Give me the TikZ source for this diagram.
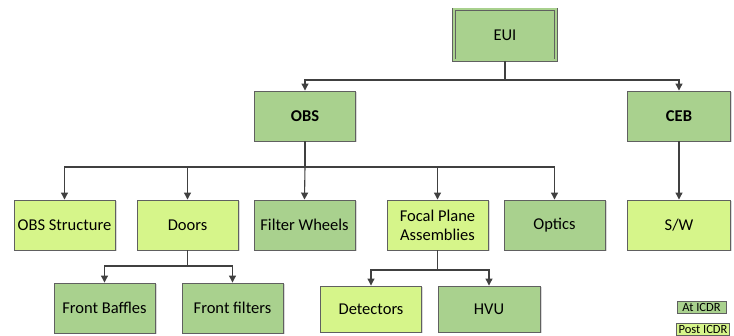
\documentclass[tikz,border=0pt]{standalone}
\usepackage{fontspec}
\setmainfont{Carlito}
\usetikzlibrary{arrows.meta,positioning,shadows}
\definecolor{dkg}{RGB}{169,209,142}
\definecolor{ltg}{RGB}{214,245,138}
\definecolor{bord}{RGB}{96,96,96}
\definecolor{conn}{RGB}{64,64,64}
\tikzset{
  box/.style={draw=bord, line width=0.9pt, minimum width=101pt, minimum height=50pt,
    inner sep=2pt, align=center, font=\fontsize{16.5}{19}\selectfont,
    drop shadow={shadow xshift=1.5pt, shadow yshift=-1.5pt, fill=black!25, opacity=0.6}},
  dark/.style={box, fill=dkg},
  light/.style={box, fill=ltg},
  legend/.style={draw=bord, line width=0.7pt, minimum width=49pt, minimum height=12pt,
    inner sep=0pt, font=\fontsize{12.5}{13}\selectfont},
  conn/.style={draw=conn, line width=1.1pt, -{Triangle[length=7pt,width=7pt]}},
  plain/.style={draw=conn, line width=1.1pt}
}
\begin{document}
\begin{tikzpicture}[x=1pt,y=-1pt]
\useasboundingbox (0,0) rectangle (734,336);
% top
\node[dark, minimum width=102pt, minimum height=51pt, double=dkg, double distance=2pt] (eui) at (505,35) {EUI};
\node[dark, font=\fontsize{16.5}{19}\selectfont\bfseries] (obs) at (305,116) {OBS};
\node[dark, font=\fontsize{16.5}{19}\selectfont\bfseries, minimum width=103pt] (ceb) at (679,116) {CEB};
% second level
\node[light] (str) at (64.5,225) {OBS Structure};
\node[light] (doors) at (187.5,225) {Doors};
\node[dark] (fw) at (304.5,225) {Filter Wheels};
\node[light] (fpa) at (437.5,225) {Focal Plane\\Assemblies};
\node[dark] (opt) at (554.5,225) {Optics};
\node[light, minimum width=103pt] (sw) at (679,225) {S/W};
% third level
\node[dark] (fb) at (104.5,308) {Front Baffles};
\node[dark] (ff) at (232.5,308) {Front filters};
\node[light, minimum height=46pt] (det) at (371,309) {Detectors};
\node[dark, minimum width=102pt, minimum height=46pt] (hvu) at (489,309) {HVU};
% legend
\node[legend, fill=dkg] (l1) at (701.5,307.5) {At ICDR};
\node[legend, fill=ltg, minimum width=53pt] (l2) at (703,329) {Post ICDR};
% connectors
\coordinate (b1) at (505,80);
\draw[plain] (eui.south) -- (b1);
\draw[conn] (b1) -| (obs.north);
\draw[conn] (b1) -| (ceb.north);
\coordinate (b2) at (305,167);
\draw[plain] (obs.south) -- (b2);
\draw[conn] (b2) -| (str.north);
\draw[conn] (b2) -| (doors.north);
\draw[conn] (b2) -- (fw.north);
\draw[conn] (b2) -| (fpa.north);
\draw[conn] (b2) -| (opt.north);
\draw[conn] (ceb.south) -- (sw.north);
\coordinate (b3) at (187.5,266);
\draw[plain] (doors.south) -- (b3);
\draw[conn] (b3) -| (fb.north);
\draw[conn] (b3) -| (ff.north);
\coordinate (b4) at (437.5,270);
\draw[plain] (fpa.south) -- (b4);
\draw[conn] (b4) -| (det.north);
\draw[conn] (b4) -| (hvu.north);
\end{tikzpicture}
\end{document}
